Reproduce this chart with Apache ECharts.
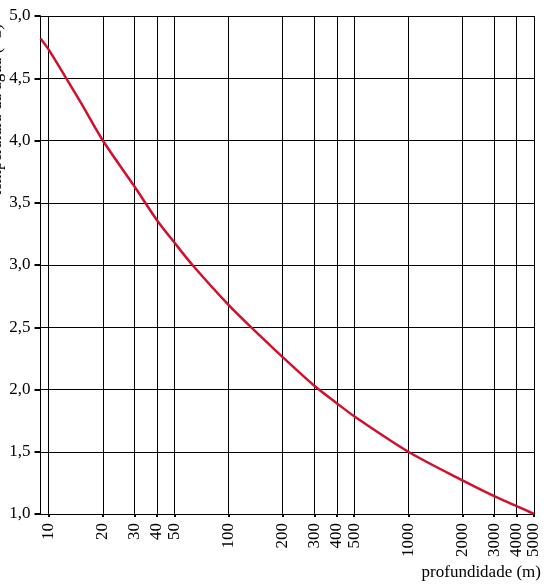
<!DOCTYPE html>
<html>
<head>
<meta charset="utf-8">
<script src="https://cdn.jsdelivr.net/npm/echarts@6/dist/echarts.min.js"></script>
<style>
html,body{margin:0;padding:0;background:#fff;}
#chart{width:547px;height:586px;}
</style>
</head>
<body>
<div id="chart"></div>
<script>
// depth (m) and water temperature (°C)
const depths = [9, 10, 15, 20, 30, 40, 50, 63, 100, 150, 200, 300, 400, 500, 1000, 2000, 3000, 4000, 5000];
const temps  = [4.82, 4.73, 4.31, 4.00, 3.63, 3.36, 3.18, 3.00, 2.68, 2.43, 2.26, 2.03, 1.89, 1.785, 1.50, 1.27, 1.144, 1.064, 1.00];
const xTicks = [10, 20, 30, 40, 50, 100, 200, 300, 400, 500, 1000, 2000, 3000, 4000, 5000];
const yTicks = [1.0, 1.5, 2.0, 2.5, 3.0, 3.5, 4.0, 4.5, 5.0];
const xTitle = 'profundidade (m)';
const yTitle = 'temperatura da água (°C)';

const FONT = '"Liberation Serif", "Times New Roman", serif';
const chart = echarts.init(document.getElementById('chart'), null, {renderer: 'canvas'});
chart.setOption({
  animation: false,
  backgroundColor: '#ffffff',
  grid: {left: 40.5, right: 13, top: 16, bottom: 72, containLabel: false},
  xAxis: {
    type: 'log',
    logBase: 10,
    min: 9,
    max: 5000,
    axisLine: {show: true, onZero: false, lineStyle: {color: '#000', width: 1}},
    axisTick: {show: true, customValues: xTicks, length: 3, lineStyle: {color: '#000', width: 2}},
    axisLabel: {show: true, customValues: xTicks, rotate: 90, margin: 9, color: '#000',
      fontFamily: FONT, fontSize: 17, formatter: v => String(v)},
    splitLine: {show: true, lineStyle: {color: '#000', width: 1}},
    minorTick: {show: false},
    minorSplitLine: {show: false}
  },
  yAxis: {
    type: 'value',
    min: yTicks[0],
    max: yTicks[yTicks.length - 1],
    interval: 0.5,
    axisLine: {show: true, lineStyle: {color: '#000', width: 1}},
    axisTick: {show: true, length: 6, lineStyle: {color: '#000', width: 2}},
    axisLabel: {margin: 10, color: '#000', fontFamily: FONT, fontSize: 17,
      formatter: v => v.toFixed(1).replace('.', ',')},
    splitLine: {show: true, lineStyle: {color: '#000', width: 1}}
  },
  graphic: [
    {type: 'text', x: -3, y: 24, rotation: Math.PI / 2,
      style: {text: yTitle, fill: '#000', font: '17px ' + FONT, align: 'right', verticalAlign: 'middle'}},
    {type: 'text', x: 541, y: 573,
      style: {text: xTitle, fill: '#000', font: '17px ' + FONT, align: 'right', verticalAlign: 'middle'}}
  ],
  series: [{
    type: 'line',
    data: depths.map((d, i) => [d, temps[i]]),
    smooth: 0.3,
    showSymbol: false,
    symbol: 'none',
    lineStyle: {color: '#d3102c', width: 2.5},
    clip: true
  }]
});
</script>
</body>
</html>
